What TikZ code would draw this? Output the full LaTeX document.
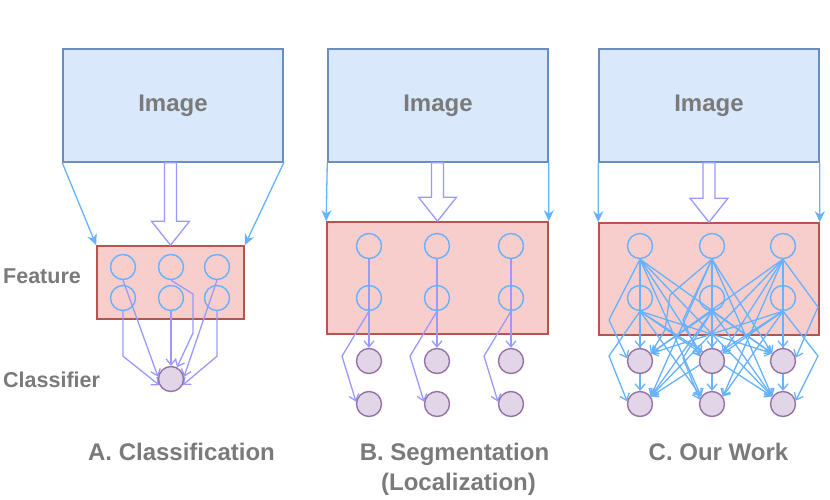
\documentclass[tikz,border=0pt]{standalone}
\usepackage{fontspec}
\setmainfont{Liberation Sans}
\usetikzlibrary{arrows.meta}
\definecolor{imgfill}{HTML}{DAE8FC}
\definecolor{imgdraw}{HTML}{6C8EBF}
\definecolor{featfill}{HTML}{F8CECC}
\definecolor{featdraw}{HTML}{B85450}
\definecolor{clsfill}{HTML}{E1D5E7}
\definecolor{clsdraw}{HTML}{9673A6}
\definecolor{nblue}{HTML}{66B2FF}
\definecolor{npurp}{HTML}{9999FF}
\definecolor{txtgray}{HTML}{7A7A7A}
\pgfdeclarelayer{back}
\pgfdeclarelayer{edges}
\pgfsetlayers{back,edges,main}
\newcommand\hollowarr[3]{% #1 img node, #2 feat node, #3 name
  \coordinate (#3top) at (#2.north |- #1.south);
  \coordinate (#3tip) at (#2.north);
  \draw[hollowstyle] ([xshift=-6pt]#3top) -- ([xshift=-6pt,yshift=24pt]#3tip)
    -- ([xshift=-19pt,yshift=24pt]#3tip) -- (#3tip)
    -- ([xshift=19pt,yshift=24pt]#3tip) -- ([xshift=6pt,yshift=24pt]#3tip)
    -- ([xshift=6pt]#3top) -- cycle;}
\begin{document}
\begin{tikzpicture}[x=1pt,y=-1pt,
  imgbox/.style={draw=imgdraw,fill=imgfill,line width=1.5pt,minimum width=220pt,minimum height=113pt,inner sep=0pt,
     font=\fontsize{24}{28}\selectfont\bfseries,text=txtgray},
  featbox/.style={draw=featdraw,fill=featfill,line width=1.6pt,inner sep=0pt},
  fcirc/.style={circle,draw=nblue,line width=1.4pt,minimum size=25pt,inner sep=0pt},
  ccirc/.style={circle,draw=clsdraw,fill=clsfill,line width=1.4pt,minimum size=25pt,inner sep=0pt},
  conA/.style={draw=npurp,line width=1.3pt,-{Straight Barb[length=6pt,width=10pt]}},
  conC/.style={draw=nblue,line width=1.3pt,-{Straight Barb[length=6pt,width=10pt]}},
  side/.style={draw=nblue,fill=nblue,line width=1.3pt,-{Stealth[length=11pt,width=10pt,inset=3.5pt]}},
  hollowstyle/.style={draw=npurp,fill=white,line width=1.3pt,line join=miter},
  lbl/.style={font=\fontsize{21.5}{26}\selectfont\bfseries,text=txtgray,inner sep=0pt},
  ttl/.style={font=\fontsize{24}{28}\selectfont\bfseries,text=txtgray,inner sep=0pt}
]
\useasboundingbox (0,0) rectangle (830,499);

% image boxes
\node[imgbox] (imgA) at (173,105.5) {Image};
\node[imgbox] (imgB) at (438,105.5) {Image};
\node[imgbox] (imgC) at (709,105.5) {Image};

% feature boxes
\begin{pgfonlayer}{back}
\node[featbox,minimum width=147pt,minimum height=73pt] (featA) at (170.5,282.5) {};
\node[featbox,minimum width=221pt,minimum height=112pt] (featB) at (437.5,278) {};
\node[featbox,minimum width=220pt,minimum height=112pt] (featC) at (709,279) {};
\end{pgfonlayer}

% side arrows
\draw[side] (imgA.south west) -- (featA.north west);
\draw[side] (imgA.south east) -- (featA.north east);
\draw[side] (imgB.south west) -- (featB.north west);
\draw[side] (imgB.south east) -- (featB.north east);
\draw[side] (imgC.south west) -- (featC.north west);
\draw[side] (imgC.south east) -- (featC.north east);

% hollow arrows
\hollowarr{imgA}{featA}{ha}
\hollowarr{imgB}{featB}{hb}
\hollowarr{imgC}{featC}{hc}

% panel A nodes
\node[fcirc] (aT1) at (123,267) {};
\node[fcirc] (aT2) at (171,267) {};
\node[fcirc] (aT3) at (217,267) {};
\node[fcirc] (aB1) at (123,298) {};
\node[fcirc] (aB2) at (171,298) {};
\node[fcirc] (aB3) at (217,298) {};
\node[ccirc] (cA) at (171,379) {};

% panel B nodes
\foreach \i/\x in {1/369,2/437,3/511}{
  \node[fcirc] (bT\i) at (\x,246) {};
  \node[fcirc] (bB\i) at (\x,298) {};
  \node[ccirc] (bU\i) at (\x,361) {};
  \node[ccirc] (bL\i) at (\x,404) {};
}

% panel C nodes
\foreach \i/\x in {1/640,2/712,3/783}{
  \node[fcirc] (cT\i) at (\x,246) {};
  \node[fcirc] (cB\i) at (\x,298) {};
  \node[ccirc] (cU\i) at (\x,361) {};
  \node[ccirc] (cL\i) at (\x,404) {};
}

\begin{pgfonlayer}{edges}
% panel A edges
\draw[conA] (aT1.south) -- (cA.170);
\draw[conA] (aB1.south) -- ++(0,45) -- (cA.208);
\draw[conA] (aT2.south) -- (193,294) -- (193,333) -- (cA.63);
\draw[conA] (aB2.south) -- (cA.north);
\draw[conA] (aT3.south) -- (cA.10);
\draw[conA] (aB3.south) -- ++(0,45) -- (cA.333);

% panel B edges
\foreach \i in {1,2,3}{
  \draw[conA] (bT\i.south) -- (bU\i.north);
  \draw[conA] (bB\i.south) -- ++(-27,45) -- (bL\i.170);
}

% panel C edges
\draw[conC] (cT1.south) -- (609,320) -- (cU1.168);
\draw[conC] (cB1.south) -- (609,356) -- (cL1.168);
\draw[conC] (cT2.south) -- (683,320) -- (cU2.160);
\draw[conC] (cB2.south) -- (683,358) -- (cL2.160);
\draw[conC] (cT3.south) -- (818,307) -- (cU3.15);
\draw[conC] (cB3.south) -- (818,356) -- (cL3.15);
\draw[conC] (cT2.south) -- (670,295) -- (665,330) -- (cU1.35);
\foreach \i in {1,2,3}{
  \draw[conC] (cT\i.south) -- (cL\i.north);
  \draw[conC] (cB\i.south) -- (cU\i.north);
  \foreach \j in {1,2,3}{
    \ifnum\i=\j\relax\else
      \ifnum\i<\j\relax\def\ang{145}\else\def\ang{35}\fi
      \ifnum\i=2\relax\ifnum\j=1\relax\else\draw[conC] (cT\i.south) -- (cU\j.\ang);\fi
      \else\draw[conC] (cT\i.south) -- (cU\j.\ang);\fi
      \draw[conC] (cT\i.south) -- (cL\j.\ang);
      \draw[conC] (cB\i.south) -- (cU\j.\ang);
      \draw[conC] (cB\i.south) -- (cL\j.\ang);
    \fi
  }
}
\end{pgfonlayer}

% labels
\node[lbl,anchor=base west] (lblF) at (3,283) {Feature};
\node[lbl,anchor=base west] (lblC) at (3,387) {Classifier};
\node[ttl,anchor=base] (tA) at (181.5,460) {A. Classification};
\node[ttl,anchor=base] (tB1) at (454.5,460) {B. Segmentation};
\node[ttl,anchor=base] (tB2) at (458.5,490) {(Localization)};
\node[ttl,anchor=base] (tC) at (718.5,460) {C. Our Work};
\end{tikzpicture}
\end{document}
